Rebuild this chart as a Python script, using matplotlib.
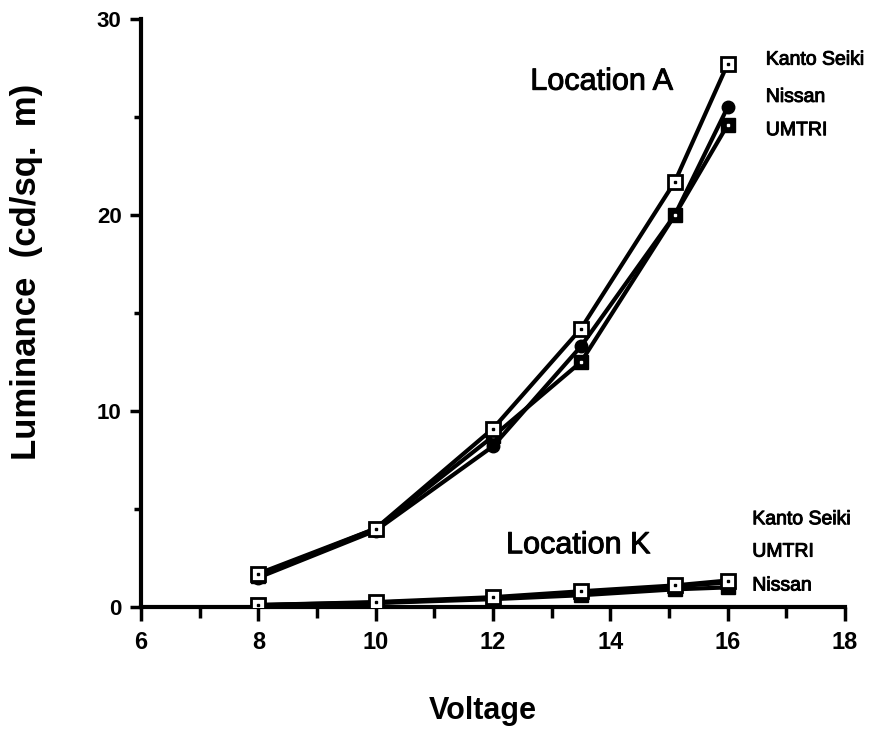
import matplotlib.pyplot as plt
import matplotlib.patheffects as pe
from matplotlib.ticker import MultipleLocator

plt.rcParams['font.family'] = ['Liberation Sans', 'DejaVu Sans']

voltage = [8, 10, 12, 13.5, 15.1, 16]

# Location A
a_kanto = [1.7, 4.0, 9.1, 14.2, 21.7, 27.7]
a_nissan = [1.5, 3.9, 8.2, 13.3, 20.0, 25.5]
a_umtri = [1.6, 4.0, 8.7, 12.5, 20.0, 24.6]

# Location K
k_kanto = [0.1, 0.25, 0.5, 0.8, 1.1, 1.35]
k_nissan = [0.1, 0.22, 0.45, 0.75, 1.05, 1.25]
k_umtri = [0.08, 0.2, 0.4, 0.6, 0.9, 1.0]

a_labels = ['Kanto Seiki', 'Nissan', 'UMTRI']
k_labels = ['Kanto Seiki', 'UMTRI', 'Nissan']

fig = plt.figure(figsize=(8.89, 7.36), dpi=100)
ax = fig.add_axes([0.1586, 0.1753, 0.7919, 0.7989])

lw = 3
heavy = [pe.withStroke(linewidth=0.7, foreground='black')]

# filled circle
for y in [a_nissan, k_nissan]:
    ax.plot(voltage, y, color='black', lw=lw, marker='o', ms=9,
            mfc='black', mec='black', zorder=2)
# filled square with small light centre
for y in [a_umtri, k_umtri]:
    ax.plot(voltage, y, color='black', lw=lw, marker='s', ms=10,
            mfc='black', mec='black', zorder=2)
    ax.plot(voltage, y, ls='none', marker='s', ms=1.5, color='white', zorder=2.5)
# open square with centre dot
for y in [a_kanto, k_kanto]:
    ax.plot(voltage, y, color='black', lw=lw, marker='s', ms=10,
            mfc='white', mec='black', mew=2, zorder=3)
    ax.plot(voltage, y, ls='none', marker='s', ms=2, color='black', zorder=4)

ax.set_xlim(6, 18)
ax.set_ylim(0, 30)
ax.xaxis.set_major_locator(MultipleLocator(2))
ax.xaxis.set_minor_locator(MultipleLocator(1))
ax.yaxis.set_major_locator(MultipleLocator(10))
ax.yaxis.set_minor_locator(MultipleLocator(5))

for s in ['top', 'right']:
    ax.spines[s].set_visible(False)
for s in ['left', 'bottom']:
    ax.spines[s].set_linewidth(3)

ax.tick_params(axis='y', which='major', direction='out', length=8, width=2.5,
               labelsize=16, pad=6)
ax.tick_params(axis='y', which='minor', direction='out', length=5, width=2.5)
ax.tick_params(axis='x', which='major', direction='out', length=10, width=2.5,
               labelsize=17, pad=7)
ax.tick_params(axis='x', which='minor', direction='out', length=8, width=2.5)
for lab in ax.get_xticklabels() + ax.get_yticklabels():
    lab.set_fontweight('bold')

ax.set_xlabel('Voltage', fontsize=22, fontweight='bold')
ax.xaxis.set_label_coords(0.485, -0.152)
ax.set_ylabel('Luminance  (cd/sq.  m)', fontsize=25, fontweight='bold')
ax.yaxis.set_label_coords(-0.139, 0.57)

ax.text(13.85, 26.8, 'Location A', fontsize=22, ha='center', va='center',
        path_effects=heavy)
ax.text(13.45, 3.15, 'Location K', fontsize=22, ha='center', va='center',
        path_effects=heavy)

for txt, yv in zip(a_labels, [27.9, 26.0, 24.3]):
    ax.text(16.65, yv, txt, fontsize=14, ha='left', va='center',
            path_effects=heavy)
for txt, yv in zip(k_labels, [4.45, 2.8, 1.07]):
    ax.text(16.42, yv, txt, fontsize=14, ha='left', va='center',
            path_effects=heavy)

fig.savefig('out.png', dpi=100)
